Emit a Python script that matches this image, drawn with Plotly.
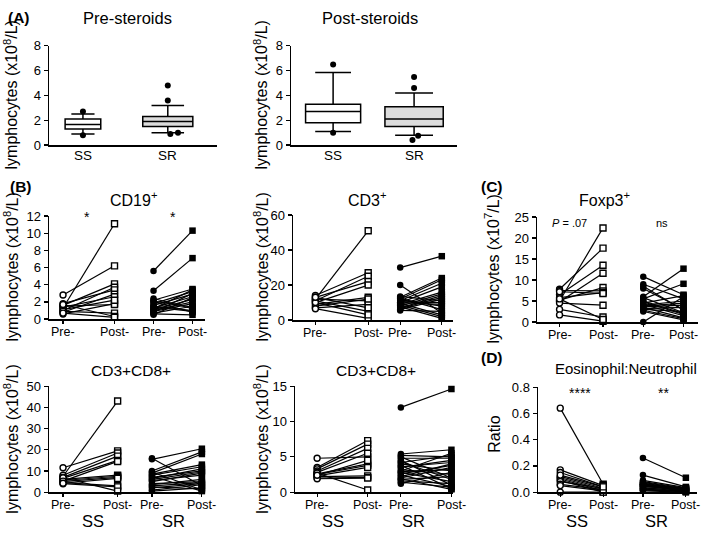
import plotly.graph_objects as go

W, H = 709, 541
FONT = "Liberation Sans"

# ---------------- DATA ----------------
box_groups = ["SS", "SR"]
# Panel A: Pre-steroids box stats (q1, median, q3, lower whisker, upper whisker)
pre_q1 = [1.3, 1.5]
pre_median = [1.65, 1.9]
pre_q3 = [2.1, 2.3]
pre_low = [0.9, 1.0]
pre_high = [2.5, 3.2]
pre_out_ss = [2.7, 0.8]
pre_out_sr = [4.8, 3.6, 0.9, 1.0]
# Post-steroids
post_q1 = [1.8, 1.5]
post_median = [2.7, 2.1]
post_q3 = [3.3, 3.1]
post_low = [1.1, 0.8]
post_high = [5.85, 4.2]
post_out_ss = [6.5, 1.0]
post_out_sr = [5.5, 4.6, 0.4, 0.75]

# Panel B: CD19+
cd19_ss_pre = [1.3, 2.8, 1.6, 1.0, 1.8, 0.8, 1.4, 0.6, 1.5, 1.1, 0.9, 1.7, 0.7]
cd19_ss_post = [11.1, 6.2, 4.1, 3.7, 3.4, 2.9, 2.6, 1.8, 1.7, 2.2, 0.7, 0.3, 0.2]
cd19_sr_pre = [5.6, 3.3, 2.4, 2.2, 2.0, 1.8, 1.6, 1.5, 1.3, 1.2, 1.1, 1.0, 0.9, 0.8, 0.7, 0.6, 1.4, 2.1, 0.5]
cd19_sr_post = [10.3, 7.1, 1.2, 3.5, 0.8, 3.2, 2.9, 1.0, 2.6, 3.4, 2.3, 2.0, 1.8, 3.0, 1.5, 0.5, 0.9, 1.4, 2.5]
# CD3+
cd3_ss_pre = [12, 14, 11, 13, 10, 9, 12, 7, 8, 11, 6.5, 10, 13]
cd3_ss_post = [51, 27, 25, 22, 20, 13, 11, 9, 12, 5, 1, 3, 7]
cd3_sr_pre = [30, 20, 13, 12, 11, 10, 9, 8, 7, 6, 10.5, 11.5, 12.5, 9.5, 8.5, 7.5, 6.5, 13.5, 5.5, 10]
cd3_sr_post = [36.5, 4, 24, 23, 21, 19, 16, 15, 14, 12, 10, 8, 6, 3, 2, 1, 13, 11, 5, 9]
# Panel C: Foxp3+
fox_ss_pre = [5.0, 7.8, 6.5, 4.8, 5.2, 7.5, 5.8, 7.2, 4.5, 3.0, 1.7, 5.5]
fox_ss_post = [22.4, 17.6, 13.5, 11.6, 8.2, 7.4, 7.0, 6.8, 4.0, 1.2, 0.2, 0.6]
fox_sr_pre = [10.8, 9.0, 8.0, 6.0, 5.5, 5.0, 4.5, 4.2, 4.0, 3.8, 3.5, 3.2, 3.0, 2.5, 0.0, 8.5, 4.8, 3.6, 2.8, 5.8]
fox_sr_post = [6.5, 5.5, 3.0, 12.7, 9.1, 2.0, 6.3, 1.5, 5.0, 4.5, 1.0, 3.5, 2.5, 0.5, 6.0, 2.8, 1.8, 4.0, 0.8, 2.2]
# CD3+CD8+ (left)
cd8a_ss_pre = [7.5, 11.5, 8, 7, 6.5, 6, 5.5, 5, 4.5, 4, 6.8, 5.2, 4.2]
cd8a_ss_post = [43, 19.5, 18.5, 17, 15, 8, 7.5, 7, 3, 2.5, 0.5, 14.5, 6.5]
cd8a_sr_pre = [16, 15.5, 10, 9, 8.5, 8, 7, 6, 5, 4, 3, 2, 1, 0.5, 9.5, 7.5, 6.5, 5.5, 3.5, 2.5]
cd8a_sr_post = [3, 20.5, 19, 18, 13, 12, 10, 9.5, 9, 5, 4.5, 4, 3.5, 2, 1, 0.5, 11, 8, 6, 1.5]
# CD3+CD8+ (right)
cd8b_ss_pre = [4.8, 3.5, 3.3, 3.0, 2.8, 2.6, 2.5, 2.3, 2.2, 2.0, 1.9, 2.7, 2.4]
cd8b_ss_post = [5.0, 7.3, 6.8, 6.2, 5.5, 4.0, 3.8, 3.5, 2.3, 2.1, 2.0, 0.3, 4.5]
cd8b_sr_pre = [12.0, 5.4, 5.0, 4.8, 4.5, 4.2, 4.0, 3.8, 3.5, 3.2, 3.0, 2.8, 2.6, 2.4, 2.2, 2.0, 1.8, 1.6, 1.4, 1.2, 3.6, 2.9, 4.3, 1.9, 5.2]
cd8b_sr_post = [14.6, 6.0, 2.0, 4.8, 1.0, 5.2, 3.0, 0.5, 4.5, 2.5, 5.5, 1.5, 3.8, 0.8, 4.0, 3.5, 2.2, 1.2, 0.7, 2.8, 4.2, 3.2, 1.8, 0.4, 5.0]
# Panel D: Eosinophil:Neutrophil ratio
eos_ss_pre = [0.64, 0.17, 0.15, 0.12, 0.11, 0.10, 0.09, 0.08, 0.06, 0.05, 0.0, 0.13]
eos_ss_post = [0.06, 0.05, 0.04, 0.03, 0.02, 0.01, 0.0, 0.03, 0.02, 0.01, 0.0, 0.04]
eos_sr_pre = [0.26, 0.13, 0.08, 0.07, 0.06, 0.05, 0.04, 0.03, 0.02, 0.01, 0.09, 0.075, 0.065, 0.055, 0.045, 0.035, 0.025, 0.015, 0.05, 0.06]
eos_sr_post = [0.11, 0.04, 0.03, 0.02, 0.01, 0.005, 0.03, 0.02, 0.01, 0.0, 0.035, 0.025, 0.015, 0.01, 0.02, 0.005, 0.0, 0.01, 0.02, 0.03]

pair_ticktext = ["Pre-", "Post-", "Pre-", "Post-"]

# ---------------- LAYOUT HELPERS ----------------
def px(x):
    return x / W

def py(y):
    return 1 - y / H

fig = go.Figure()
layout = dict(
    width=W, height=H, margin=dict(l=0, r=0, t=0, b=0),
    paper_bgcolor="white", plot_bgcolor="white", showlegend=False,
    font=dict(family=FONT, color="black", size=12),
)
annotations = []

def add_axes(i, box, yrange, ytickvals, xrange, xtickvals, xticktext, yfmt=None, xtickfont=12.5,
             xticks="outside", label_off=13):
    l, r, t, b = box
    xa = "xaxis" if i == 1 else f"xaxis{i}"
    ya = "yaxis" if i == 1 else f"yaxis{i}"
    xref = "x" if i == 1 else f"x{i}"
    layout[xa] = dict(domain=[px(l), px(r)], anchor=f"y{i if i > 1 else ''}", range=xrange,
                      showline=True, linecolor="black", linewidth=1.5, showgrid=False, zeroline=False,
                      tickvals=xtickvals, showticklabels=False, ticks=xticks, ticklen=3, tickwidth=1.2,
                      tickcolor="black", fixedrange=True)
    ydict = dict(domain=[py(b), py(t)], anchor=f"x{i if i > 1 else ''}", range=yrange,
                 showline=True, linecolor="black", linewidth=1.5, showgrid=False, zeroline=False,
                 tickvals=ytickvals, ticks="outside", ticklen=4, tickwidth=1.2, tickcolor="black",
                 tickfont=dict(size=13, family=FONT), fixedrange=True)
    if yfmt:
        ydict["tickformat"] = yfmt
    layout[ya] = ydict
    for xv, tt in zip(xtickvals, xticktext):
        annotations.append(dict(x=xv, y=py(b + label_off), xref=xref, yref="paper", text=tt,
                                showarrow=False, font=dict(size=xtickfont, family=FONT, color="black"),
                                xanchor="center", yanchor="middle"))

def text(x, y, s, size=15, bold=False, angle=0):
    if bold:
        s = f"<b>{s}</b>"
    annotations.append(dict(x=px(x), y=py(y), xref="paper", yref="paper", text=s, showarrow=False,
                            textangle=angle, font=dict(size=size, family=FONT, color="black"),
                            xanchor="center", yanchor="middle"))

# ---------------- PANEL A ----------------
boxA = [(49, 217, 40, 142), (291, 457, 40, 142)]
a_xranges = [[-0.4, 1.58], [-0.52, 1.53]]
a_widths = [[0.42, 0.59], [0.68, 0.72]]
a_jitter_sr = [[0, 0, 0.03, 0.12], [0, 0, -0.02, 0.05]]
a_stats = [
    (pre_q1, pre_median, pre_q3, pre_low, pre_high, pre_out_ss, pre_out_sr),
    (post_q1, post_median, post_q3, post_low, post_high, post_out_ss, post_out_sr),
]
fills = ["white", "#dcdcdc"]
for k in range(2):
    i = k + 1
    q1, med, q3, lo, hi, out_ss, out_sr = a_stats[k]
    xa = "x" if i == 1 else f"x{i}"
    yax = "y" if i == 1 else f"y{i}"
    for g in range(2):
        fig.add_trace(go.Box(
            x=[g], q1=[q1[g]], median=[med[g]], q3=[q3[g]], lowerfence=[lo[g]], upperfence=[hi[g]],
            orientation="v", width=a_widths[k][g], whiskerwidth=0.65, fillcolor=fills[g],
            line=dict(color="black", width=1.5), boxpoints=False, xaxis=xa, yaxis=yax,
            hoverinfo="skip"))
    fig.add_trace(go.Scatter(x=[0] * len(out_ss), y=out_ss, mode="markers",
                             marker=dict(color="black", size=6), xaxis=xa, yaxis=yax, cliponaxis=False))
    fig.add_trace(go.Scatter(x=[1 + j for j in a_jitter_sr[k]], y=out_sr, mode="markers",
                             marker=dict(color="black", size=6), xaxis=xa, yaxis=yax, cliponaxis=False))
    add_axes(i, boxA[k], [0, 8], [0, 2, 4, 6, 8], a_xranges[k], [0, 1], box_groups,
             xtickfont=13.5, xticks="", label_off=11)

# ---------------- PAIRED PANELS ----------------
panels = [
    # (box, xpos, yrange, ytickvals, data, yfmt)
    ((49, 205, 215, 321), [0.09, 0.42, 0.67, 0.92], [0, 12], [0, 2, 4, 6, 8, 10, 12],
     (cd19_ss_pre, cd19_ss_post, cd19_sr_pre, cd19_sr_post), None),
    ((293, 453, 214, 322), [0.14, 0.47, 0.67, 0.93], [0, 60], [0, 20, 40, 60],
     (cd3_ss_pre, cd3_ss_post, cd3_sr_pre, cd3_sr_post), None),
    ((537, 698, 216, 324), [0.14, 0.41, 0.66, 0.91], [0, 25], [0, 5, 10, 15, 20, 25],
     (fox_ss_pre, fox_ss_post, fox_sr_pre, fox_sr_post), None),
    ((49, 205, 390, 499), [0.09, 0.44, 0.66, 0.98], [0, 50], [0, 10, 20, 30, 40, 50],
     (cd8a_ss_pre, cd8a_ss_post, cd8a_sr_pre, cd8a_sr_post), None),
    ((295, 453, 390, 499), [0.14, 0.46, 0.67, 0.99], [0, 15], [0, 5, 10, 15],
     (cd8b_ss_pre, cd8b_ss_post, cd8b_sr_pre, cd8b_sr_post), None),
    ((538, 697, 391, 499), [0.14, 0.41, 0.66, 0.93], [0, 0.8], [0, 0.2, 0.4, 0.6, 0.8],
     (eos_ss_pre, eos_ss_post, eos_sr_pre, eos_sr_post), ".1f"),
]

for n, (box, xpos, yr, ytv, data, yfmt) in enumerate(panels):
    i = n + 3
    xa, yax = f"x{i}", f"y{i}"
    ss_pre, ss_post, sr_pre, sr_post = data
    for pre, post, xp, xq in ((ss_pre, ss_post, xpos[0], xpos[1]), (sr_pre, sr_post, xpos[2], xpos[3])):
        lx, ly = [], []
        for a, b in zip(pre, post):
            lx += [xp, xq, None]
            ly += [a, b, None]
        fig.add_trace(go.Scatter(x=lx, y=ly, mode="lines", line=dict(color="black", width=1.2),
                                 xaxis=xa, yaxis=yax, cliponaxis=False, hoverinfo="skip"))
    fig.add_trace(go.Scatter(x=[xpos[0]] * len(ss_pre), y=ss_pre, mode="markers",
                             marker=dict(symbol="circle", size=6, color="white", line=dict(color="black", width=1.4)),
                             xaxis=xa, yaxis=yax, cliponaxis=False))
    fig.add_trace(go.Scatter(x=[xpos[1]] * len(ss_post), y=ss_post, mode="markers",
                             marker=dict(symbol="square", size=6, color="white", line=dict(color="black", width=1.4)),
                             xaxis=xa, yaxis=yax, cliponaxis=False))
    fig.add_trace(go.Scatter(x=[xpos[2]] * len(sr_pre), y=sr_pre, mode="markers",
                             marker=dict(symbol="circle", size=6.5, color="black"),
                             xaxis=xa, yaxis=yax, cliponaxis=False))
    fig.add_trace(go.Scatter(x=[xpos[3]] * len(sr_post), y=sr_post, mode="markers",
                             marker=dict(symbol="square", size=6.5, color="black"),
                             xaxis=xa, yaxis=yax, cliponaxis=False))
    add_axes(i, box, yr, ytv, [0, 1], xpos, pair_ticktext, yfmt=yfmt, xtickfont=12.5, label_off=13)

# ---------------- TEXT ----------------
ylab = "lymphocytes (x10<sup>8</sup>/L)"
text(19, 11, "(A)", 15.5, bold=True)
text(127, 11, "Pre-steroids", 16.5)
text(370, 11, "Post-steroids", 16.5)
text(11, 91, ylab, 16, angle=-90)
text(261, 91, ylab, 16, angle=-90)

text(21, 185, "(B)", 15.5, bold=True)
text(133, 197, "CD19<sup>+</sup>", 16)
text(367, 197, "CD3<sup>+</sup>", 16)
text(11, 268, ylab, 16, angle=-90)
text(261, 268, ylab, 16, angle=-90)
text(87, 216, "*", 14)
text(173, 216, "*", 14)

text(492, 185, "(C)", 15.5, bold=True)
text(604, 197, "Foxp3<sup>+</sup>", 16)
text(492, 270, "lymphocytes (x10<sup>7</sup>/L)", 16, angle=-90)
text(569, 222, "<i>P</i> = .07", 11)
text(662, 222, "ns", 11)

text(131, 374, "CD3+CD8+", 15.5)
text(376, 374, "CD3+CD8+", 15.5)
text(11, 445, ylab, 16, angle=-90)
text(261, 445, ylab, 16, angle=-90)
text(93, 529, "SS", 16.5)
text(173, 529, "SR", 16.5)
text(333, 529, "SS", 16.5)
text(413, 529, "SR", 16.5)

text(492, 360, "(D)", 15.5, bold=True)
text(626, 372, "Eosinophil:Neutrophil", 15)
text(495, 440, "Ratio", 16, angle=-90)
text(580, 397, "****", 14)
text(663, 397, "**", 14)
text(577, 529, "SS", 16.5)
text(656, 529, "SR", 16.5)

layout["annotations"] = annotations
fig.update_layout(**layout)
fig.write_html("out.html", config={"displayModeBar": False, "staticPlot": True},
               post_script="document.body.style.margin='0';document.body.style.overflow='hidden';")
